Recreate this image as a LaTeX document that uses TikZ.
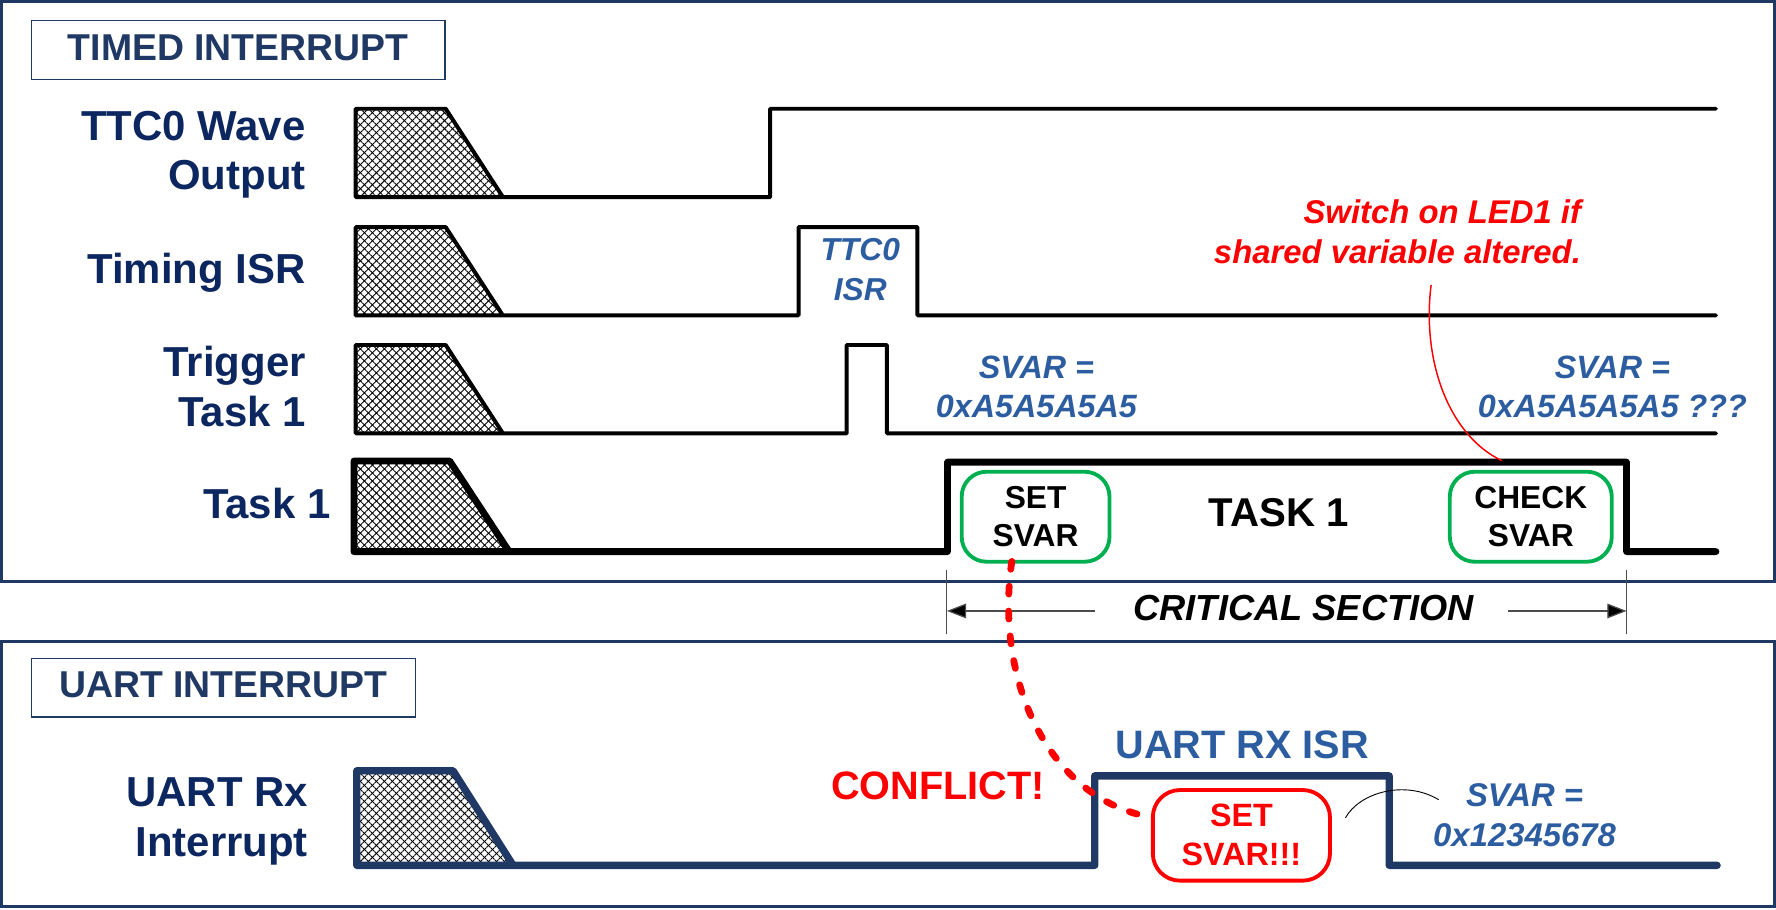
\documentclass[tikz,border=0pt]{standalone}
\usepackage{fontspec}
\setmainfont{Liberation Sans}
\usetikzlibrary{patterns.meta,arrows.meta,calc}
\definecolor{framec}{HTML}{1F3864}
\definecolor{labnavy}{HTML}{0C2660}
\definecolor{ttlnavy}{HTML}{1F3864}
\definecolor{sigblue}{HTML}{2D5DA1}
\definecolor{okgreen}{HTML}{00B050}
\definecolor{alarm}{HTML}{FF0000}
\newcommand\fsz[2]{\fontsize{#1}{#2}\selectfont}
\begin{document}
\begin{tikzpicture}[x=1pt,y=-1pt,
  framebox/.style={draw=framec,line width=2.5pt},
  titlebox/.style={draw=framec,line width=1.2pt,inner sep=0pt,text depth=5pt,text=ttlnavy,font=\fsz{33}{40}\bfseries},
  rowlabel/.style={inner sep=0pt,align=right,text=labnavy,font=\fsz{37}{44}\bfseries},
  hatchA/.style={pattern={Lines[angle=45,distance=5pt,line width=0.8pt]}},
  hatchB/.style={pattern={Lines[angle=-45,distance=5pt,line width=0.8pt]}},
  wave/.style={line width=3.5pt,line join=round,line cap=round},
  thickwave/.style={line width=6pt,line join=round,line cap=round},
  uartwave/.style={draw=framec,line width=6.5pt,line join=round,line cap=round},
  bluetxt/.style={inner sep=0pt,align=center,text=sigblue,font=\fsz{28.5}{34}\bfseries\itshape},
  actbox/.style={draw=okgreen,line width=3.4pt,rounded corners=22pt,inner sep=0pt,align=center,font=\fsz{28}{34}\bfseries},
  redbox/.style={draw=alarm,line width=3.4pt,rounded corners=24pt,inner sep=0pt,align=center,text=alarm,font=\fsz{28.5}{34.5}\bfseries},
  critarrow/.style={draw=black!70,line width=1.1pt,-{Triangle[length=17pt,width=13pt,fill=black]}},
  conflictline/.style={draw=alarm,line width=6pt,line cap=round,dash pattern=on 7pt off 15pt},
]
\useasboundingbox (0,0) rectangle (1568,803);
% frames
\draw[framebox] (1.5,1.5) rectangle (1566.5,513.5);
\draw[framebox] (1.5,566) rectangle (1566.5,800.5);
% titles
\node[titlebox,minimum width=365.3pt,minimum height=51.7pt] (timed) at (210.3,44.2) {TIMED INTERRUPT};
\node[titlebox,minimum width=339pt,minimum height=51.5pt] (uartttl) at (197.2,607.3) {UART INTERRUPT};
% row labels
\node[rowlabel,anchor=north east] (labttc) at (270,97.7) {TTC0 Wave\\Output};
\node[rowlabel,anchor=base east] (labisr) at (270,250) {Timing ISR};
\node[rowlabel,anchor=north east] (labtrig) at (270,305.5) {Trigger\\Task 1};
\node[rowlabel,anchor=base east] (labtask) at (292,457.6) {Task 1};
\node[rowlabel,anchor=north east] (labuart) at (272,686.5) {UART Rx\\Interrupt};
% row 1
\fill[hatchA] (314,174) -- (314,96) -- (393.5,96) -- (444,174) -- cycle;
\fill[hatchB] (314,174) -- (314,96) -- (393.5,96) -- (444,174) -- cycle;
\draw[wave] (444,174) -- (314,174) -- (314,96) -- (393.5,96) -- (444,174) -- (680,174) -- (680,96) -- (1515,96);
% row 2
\fill[hatchA] (314,278.5) -- (314,200.5) -- (393.5,200.5) -- (444,278.5) -- cycle;
\fill[hatchB] (314,278.5) -- (314,200.5) -- (393.5,200.5) -- (444,278.5) -- cycle;
\draw[wave] (444,278.5) -- (314,278.5) -- (314,200.5) -- (393.5,200.5) -- (444,278.5) -- (705,278.5) -- (705,200.5) -- (810,200.5) -- (810,278.5) -- (1515,278.5);
% row 3
\fill[hatchA] (314,382.6) -- (314,304.6) -- (393.5,304.6) -- (444,382.6) -- cycle;
\fill[hatchB] (314,382.6) -- (314,304.6) -- (393.5,304.6) -- (444,382.6) -- cycle;
\draw[wave] (444,382.6) -- (314,382.6) -- (314,304.6) -- (393.5,304.6) -- (444,382.6) -- (747.5,382.6) -- (747.5,304.6) -- (783,304.6) -- (783,382.6) -- (1515,382.6);
% row 4
\fill[hatchA] (312.5,487) -- (312.5,407) -- (397,407) -- (449.5,487) -- cycle;
\fill[hatchB] (312.5,487) -- (312.5,407) -- (397,407) -- (449.5,487) -- cycle;
\draw[thickwave] (449.5,487) -- (312.5,487) -- (312.5,407) -- (397,407) -- (449.5,487) -- (836.5,487) -- (836.5,408) -- (1436,408) -- (1436,487) -- (1515,487);
% uart row
\fill[hatchA] (315,764) -- (315,680.5) -- (400,680.5) -- (453,764) -- cycle;
\fill[hatchB] (315,764) -- (315,680.5) -- (400,680.5) -- (453,764) -- cycle;
\draw[uartwave] (453,764) -- (315,764) -- (315,680.5) -- (400,680.5) -- (453,764) -- (966.5,764) -- (966.5,685) -- (1226.5,685) -- (1226.5,764) -- (1516,764);
% texts in timed box
\node[bluetxt,anchor=north,font=\fsz{28}{35.5}\bfseries\itshape] (ttcisr) at (759.5,210) {TTC0\\ISR};
\node[bluetxt,anchor=north] (svarA) at (915,314.5) {SVAR =\\0xA5A5A5A5};
\node[bluetxt,anchor=north] (svarQ) at (1423.5,314.5) {SVAR =\\0xA5A5A5A5 ???};
\node[inner sep=0pt,anchor=base,font=\fsz{35.5}{40}\bfseries] (task) at (1129,464.4) {TASK 1};
\node[actbox,minimum width=130.5pt,minimum height=79.5pt] (setsvar) at (914.3,456.2) {SET\\SVAR};
\node[actbox,minimum width=143pt,minimum height=79.5pt] (checksvar) at (1351.5,456.2) {CHECK\\SVAR};
\node[inner sep=0pt,anchor=north east,align=right,text=alarm,font=\fsz{29}{35.5}\bfseries\itshape] (led) at (1396,176) {Switch on LED1 if\\shared variable altered.};
\coordinate (ledtail) at (1263.5,251.5);
\coordinate (chktip) at ($(checksvar.north)+(-25.5,-8)$);
\draw[alarm,line width=1.3pt] (ledtail) .. controls (1255,320) and (1280,385) .. (chktip);
% critical section
\node[inner sep=0pt,anchor=base,font=\fsz{32}{38}\bfseries\itshape] (crit) at (1151,548.2) {CRITICAL SECTION};
\coordinate (critL) at (836,539.4);
\coordinate (critR) at (1436,539.4);
\coordinate (critLs) at (966.4,539.4);
\coordinate (critRs) at (1331.6,539.4);
\draw[black!70,line width=0.9pt] (836,503) -- (836,560);
\draw[black!70,line width=0.9pt] (1436,503) -- (1436,560);
\draw[critarrow] (critLs) -- (critL);
\draw[critarrow] (critRs) -- (critR);
% uart texts
\node[inner sep=0pt,anchor=base,text=sigblue,font=\fsz{35}{40}\bfseries] (uartisr) at (1096.6,669.5) {UART RX ISR};
\node[inner sep=0pt,anchor=base,text=alarm,font=\fsz{35}{40}\bfseries] (conflict) at (828,705.7) {CONFLICT!};
\node[redbox,minimum width=156.4pt,minimum height=80pt] (setsvar2) at (1096,737.5) {SET\\SVAR!!!};
\node[bluetxt,anchor=north,font=\fsz{29}{35.3}\bfseries\itshape] (svarB) at (1346,691.4) {SVAR =\\0x12345678};
\coordinate (arcA) at ($(setsvar2.east)+(12,-15.5)$);
\coordinate (arcB) at ($(svarB.west)+(5,-13.5)$);
\draw[black,line width=0.8pt] (arcA) .. controls (1200,700) and (1240,688) .. (arcB);
% conflict dashed link
\draw[conflictline] ($(setsvar.south)+(-21,-2)$) .. controls (878,600) and (925,705) .. ($(setsvar2.west)+(0,-16)$);
\end{tikzpicture}
\end{document}
